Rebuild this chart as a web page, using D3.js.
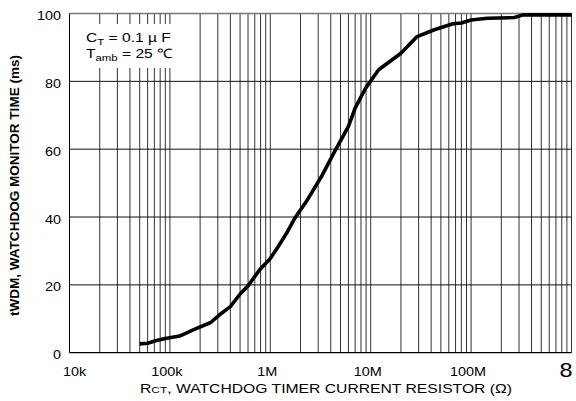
<!DOCTYPE html>
<html lang="en">
<head>
  <meta charset="UTF-8" />
  <title>Watchdog monitor time</title>
  <script src="https://d3js.org/d3.v7.min.js"></script>
  <style>
    body { margin: 0; background: #fff; }
    svg text { font-family: "Liberation Sans", Arial, sans-serif; fill: #000; }
  </style>
</head>
<body>
  <svg></svg>
<script>
  // values: RCT (ohm) vs tWDM (ms)
  const rct = [50e3, 60e3, 72e3, 90e3, 125e3, 175e3, 255e3, 310e3, 400e3, 500e3, 600e3, 780e3,
    1e6, 1.2e6, 1.45e6, 1.75e6, 2.3e6, 3.3e6, 4.3e6, 6e6, 7e6, 8.9e6, 12e6, 20e6, 29e6,
    43e6, 66e6, 80e6, 100e6, 145e6, 270e6, 330e6, 1e9];
  const twdm = [2.6, 2.8, 3.5, 4.2, 4.9, 6.9, 8.9, 11.1, 13.6, 17.3, 19.7, 24.4,
    27.8, 31.3, 35.2, 39.6, 44.7, 52.4, 58.9, 66.7, 72.1, 78, 83.4, 88.3, 93.2,
    95.2, 97, 97.2, 98.1, 98.6, 98.8, 99.6, 99.6];

  const xTicks = [1e4, 1e5, 1e6, 1e7, 1e8];
  const xTickLabels = ['10k', '100k', '1M', '10M', '100M'];
  const yTicks = [0, 20, 40, 60, 80, 100];

  const width = 576, height = 401;
  const plotL = 69.5, plotR = 571.5, plotT = 13.5, plotB = 352.7;
  const sx = 1.2; // glyphs in the picture are drawn wider than normal

  const svg = d3.select('svg').attr('width', width).attr('height', height);

  const x = d3.scaleLog().domain([1e4, 1e9]).range([plotL, plotR]);
  const y = d3.scaleLinear().domain([0, 100]).range([plotB, plotT]);

  // vertical log grid: 2..9 of every decade plus the decades
  let gridX = [];
  for (let p = 4; p < 9; p++) {
    for (let m = 2; m <= 9; m++) gridX.push(m * Math.pow(10, p));
  }
  gridX.push(1e5, 1e6, 1e7, 1e8);

  svg.append('g')
    .selectAll('line')
    .data(gridX)
    .join('line')
    .attr('x1', d => x(d)).attr('x2', d => x(d))
    .attr('y1', plotT).attr('y2', plotB)
    .attr('stroke', '#333')
    .attr('stroke-width', 1);

  svg.append('g')
    .selectAll('line')
    .data(yTicks.filter(d => d > 0 && d < 100))
    .join('line')
    .attr('x1', plotL).attr('x2', plotR)
    .attr('y1', d => y(d)).attr('y2', d => y(d))
    .attr('stroke', '#111')
    .attr('stroke-width', 1);

  // frame
  svg.append('line').attr('x1', plotL).attr('x2', plotR).attr('y1', plotT).attr('y2', plotT)
    .attr('stroke', '#777').attr('stroke-width', 1.5);
  svg.append('line').attr('x1', plotR).attr('x2', plotR).attr('y1', plotT).attr('y2', plotB)
    .attr('stroke', '#333').attr('stroke-width', 1);
  svg.append('line').attr('x1', plotL).attr('x2', plotL).attr('y1', plotT).attr('y2', plotB)
    .attr('stroke', '#000').attr('stroke-width', 1);
  svg.append('line').attr('x1', plotL).attr('x2', plotR).attr('y1', plotB).attr('y2', plotB)
    .attr('stroke', '#000').attr('stroke-width', 1.2);

  // legend box hides the grid behind it
  svg.append('rect')
    .attr('x', plotL + 0.5).attr('y', 24)
    .attr('width', 115).attr('height', 44)
    .attr('fill', '#fff');

  const leg1 = svg.append('text')
    .attr('transform', 'translate(86,42) scale(' + sx + ',1)')
    .style('font-size', '13px');
  leg1.append('tspan').text('C');
  leg1.append('tspan').attr('dy', 3).style('font-size', '9.5px').text('T');
  leg1.append('tspan').attr('dy', -3).text(' = 0.1 \u00b5 F');

  const leg2 = svg.append('text')
    .attr('transform', 'translate(86,57.5) scale(' + sx + ',1)')
    .style('font-size', '13px');
  leg2.append('tspan').text('T');
  leg2.append('tspan').attr('dy', 3).style('font-size', '9.5px').text('amb');
  leg2.append('tspan').attr('dy', -3).text(' = 25 \u2103');

  // curve
  const line = d3.line()
    .x((d, i) => x(rct[i]))
    .y(d => y(d))
    .curve(d3.curveLinear);

  svg.append('path')
    .datum(twdm)
    .attr('d', line)
    .attr('fill', 'none')
    .attr('stroke', '#000')
    .attr('stroke-width', 3.6)
    .attr('stroke-linejoin', 'round');

  // y tick labels
  svg.append('g')
    .selectAll('text')
    .data(yTicks)
    .join('text')
    .attr('transform', d => 'translate(61,' + (y(d) + 6.5) + ') scale(' + sx + ',1)')
    .attr('text-anchor', 'end')
    .style('font-size', '12px')
    .text(d => d);

  // x tick labels
  svg.append('g')
    .selectAll('text')
    .data(xTicks)
    .join('text')
    .attr('transform', (d, i) => 'translate(' + (x(d) + (i === 0 ? 5 : -3)) + ',375.7) scale(' + sx + ',1)')
    .attr('text-anchor', 'middle')
    .style('font-size', '12px')
    .text((d, i) => xTickLabels[i]);

  svg.append('text')
    .attr('transform', 'translate(566,377) scale(' + sx + ',1)')
    .attr('text-anchor', 'middle')
    .style('font-size', '19.5px')
    .text('8');

  // x title
  const xt = svg.append('text')
    .attr('transform', 'translate(140,393.3) scale(' + sx + ',1)')
    .attr('textLength', 310)
    .attr('lengthAdjust', 'spacingAndGlyphs')
    .style('font-size', '12.5px');
  xt.append('tspan').text('R');
  xt.append('tspan').style('font-size', '9.5px').text('CT');
  xt.append('tspan').text(', WATCHDOG TIMER CURRENT RESISTOR (\u03a9)');

  // y title
  svg.append('text')
    .attr('transform', 'translate(19,185.5) scale(' + sx + ',1) rotate(-90)')
    .attr('text-anchor', 'middle')
    .attr('textLength', 261)
    .attr('lengthAdjust', 'spacingAndGlyphs')
    .style('font-size', '10.5px')
    .style('font-weight', 'bold')
    .text('tWDM, WATCHDOG MONITOR TIME (ms)');
</script>
</body>
</html>
